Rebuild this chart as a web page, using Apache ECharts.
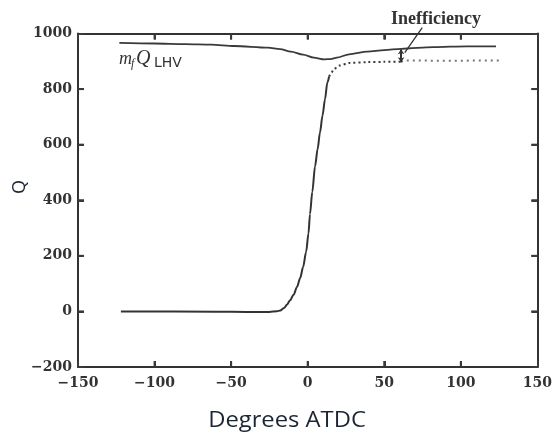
<!DOCTYPE html>
<html>
<head>
<meta charset="utf-8">
<script src="https://cdn.jsdelivr.net/npm/echarts@6/dist/echarts.min.js"></script>
<style>
html,body{margin:0;padding:0;background:#fff;}
#chart{width:555px;height:439px;}
</style>
</head>
<body>
<div id="chart"></div>
<script>
// ---- data ----
const xTickMin = -150, xTickMax = 150, xTickStep = 50;
const yTickMin = -200, yTickMax = 1000, yTickStep = 200;
const xInnerTicks = [-100, -50, 0, 50, 100];
const yInnerTicks = [0, 200, 400, 600, 800];

// fuel energy  m_f * Q_LHV
const fuelAngle = [-123, -100, -80, -63, -48, -26, -18, -11, -3, 4, 11, 15, 19, 27, 39, 50, 61, 82, 104, 123];
const fuelQ     = [ 966,  964, 962, 960, 955, 949, 944, 935, 924, 913, 907, 908, 913, 925, 935, 940, 945, 951, 954, 954];

// cumulative heat release, solid part
const hrAngle = [-122, -60, -40, -25, -20, -17.9, -15.5, -13.6, -11.5, -9.2, -7, -4.9, -3, -1, 0.5, 1.5, 3, 4.8, 6.5, 8, 9.7, 11.3, 12.8, 14];
const hrQ     = [   0,  -1,  -2,  -2,   1,     3,    12,    24,    40,   60, 88,  120, 160, 215, 280, 350, 430, 522, 585, 643, 705, 763, 823, 845];

// cumulative heat release, dotted part
const hrDotAngle = [14, 15.5, 17, 21, 27, 39, 50, 61];
const hrDotQ     = [845, 859, 872, 885, 894, 897, 898, 898];
const hrTailAngle = [61, 63, 90, 125];
const hrTailQ     = [898, 903, 902, 903];

// "Inefficiency" annotation: gap arrow and leader line
const gapArrow = [[61, 943], [61, 897]];
const leader   = [[63.4, 931], [74.8, 1021]];

const labelFuel = 'Inefficiency';

const zip = (a, b) => a.map((v, i) => [v, b[i]]);
const minus = v => String(v).replace('-', '\u2212');

const chart = echarts.init(document.getElementById('chart'));
const axisColor = '#333';
const tick = {show: true, inside: true, length: 6, lineStyle: {color: '#3a3a3a', width: 2}};

// tick marks on all four frame sides (drawn through the axes' scales)
const tickData = xInnerTicks.map(v => [v, 0]).concat(yInnerTicks.map(v => [v, 1]));
function renderTick(params, api) {
  const v = api.value(0), kind = api.value(1), L = 6;
  const st = {stroke: '#3a3a3a', lineWidth: 2};
  let a, b;
  if (kind === 0) {
    const p1 = api.coord([v, yTickMin]), p2 = api.coord([v, yTickMax]);
    a = {x1: p1[0], y1: p1[1], x2: p1[0], y2: p1[1] - L};
    b = {x1: p2[0], y1: p2[1], x2: p2[0], y2: p2[1] + L};
  } else {
    const p1 = api.coord([xTickMin, v]), p2 = api.coord([xTickMax, v]);
    a = {x1: p1[0], y1: p1[1], x2: p1[0] + L, y2: p1[1]};
    b = {x1: p2[0], y1: p2[1], x2: p2[0] - L, y2: p2[1]};
  }
  return {type: 'group', children: [
    {type: 'line', shape: a, style: st},
    {type: 'line', shape: b, style: st}
  ]};
}

const option = {
  animation: false,
  grid: {left: 78, right: 14, top: 33.5, bottom: 72},
  xAxis: [
    {type: 'value', min: xTickMin, max: xTickMax, interval: xTickStep,
     axisLine: {show: true, onZero: false, lineStyle: {color: axisColor, width: 2}},
     splitLine: {show: false},
     axisTick: tick,
     axisLabel: {margin: 9, formatter: minus, fontFamily: 'DejaVu Serif', fontWeight: 'bold', fontSize: 14, color: '#333'}},
    {type: 'value', position: 'top', min: xTickMin, max: xTickMax, interval: xTickStep,
     axisLine: {show: true, onZero: false, lineStyle: {color: axisColor, width: 2}},
     splitLine: {show: false},
     axisTick: tick,
     axisLabel: {show: false}}
  ],
  yAxis: [
    {type: 'value', min: yTickMin, max: yTickMax, interval: yTickStep,
     axisLine: {show: true, onZero: false, lineStyle: {color: axisColor, width: 2}},
     splitLine: {show: false},
     axisTick: tick,
     axisLabel: {margin: 6, formatter: minus, fontFamily: 'DejaVu Serif', fontWeight: 'bold', fontSize: 14, color: '#333'}},
    {type: 'value', position: 'right', min: yTickMin, max: yTickMax, interval: yTickStep,
     axisLine: {show: true, onZero: false, lineStyle: {color: axisColor, width: 2}},
     splitLine: {show: false},
     axisTick: tick,
     axisLabel: {show: false}}
  ],
  series: [
    {
      type: 'line', data: zip(fuelAngle, fuelQ), showSymbol: false,
      smooth: 0.3, smoothMonotone: 'x',
      lineStyle: {color: '#3a3a3a', width: 1.8}
    },
    {
      type: 'line', data: zip(hrAngle, hrQ), showSymbol: false,
      smooth: 0.3, smoothMonotone: 'x',
      lineStyle: {color: '#333', width: 2}
    },
    {
      type: 'line', data: zip(hrDotAngle, hrDotQ), showSymbol: false,
      smooth: 0.3, smoothMonotone: 'x',
      lineStyle: {color: '#3a3a3a', width: 2, type: [2, 3]}
    },
    {
      type: 'line', data: zip(hrTailAngle, hrTailQ), showSymbol: false,
      lineStyle: {color: '#777', width: 2, type: [2, 4]}
    },
    {
      type: 'line', data: leader, showSymbol: false, clip: false,
      lineStyle: {color: '#333', width: 1.3}
    },
    {
      type: 'line', data: gapArrow, showSymbol: false,
      lineStyle: {color: 'rgba(0,0,0,0)', width: 0},
      markLine: {
        silent: true, symbol: ['arrow', 'arrow'], symbolSize: [5, 5], label: {show: false},
        lineStyle: {color: '#333', width: 2, type: 'solid'},
        data: [[{coord: gapArrow[0]}, {coord: gapArrow[1]}]]
      }
    },
    {
      type: 'custom', data: tickData, renderItem: renderTick, clip: false, silent: true,
      encode: {x: 0, y: 1}
    }
  ],
  graphic: [
    {type: 'text', x: 287, y: 421,
     style: {text: 'Degrees ATDC', font: '22px "Open Sans"', fill: '#1c2533', align: 'center', verticalAlign: 'middle'},
     scaleX: 1.08, originX: 0},
    {type: 'text', x: 19.5, y: 187, rotation: Math.PI / 2,
     style: {text: 'Q', font: '18px "Open Sans"', fill: '#1c2533', align: 'center', verticalAlign: 'middle'}},
    {type: 'text', x: 436, y: 19,
     style: {text: labelFuel, font: 'bold 18px "Liberation Serif"', fill: '#333', align: 'center', verticalAlign: 'middle'}},
    {type: 'text', x: 119, y: 59,
     style: {text: 'm', font: 'italic 18px "Liberation Serif"', fill: '#333', verticalAlign: 'middle'}},
    {type: 'text', x: 131, y: 64,
     style: {text: 'f', font: 'italic 12px "Liberation Serif"', fill: '#333', verticalAlign: 'middle'}},
    {type: 'text', x: 136, y: 59,
     style: {text: 'Q', font: 'italic 20px "Liberation Serif"', fill: '#333', verticalAlign: 'middle'}},
    {type: 'text', x: 154, y: 63,
     style: {text: 'LHV', font: '14px "DejaVu Sans"', fill: '#333', verticalAlign: 'middle'}}
  ]
};
chart.setOption(option);
</script>
</body>
</html>
